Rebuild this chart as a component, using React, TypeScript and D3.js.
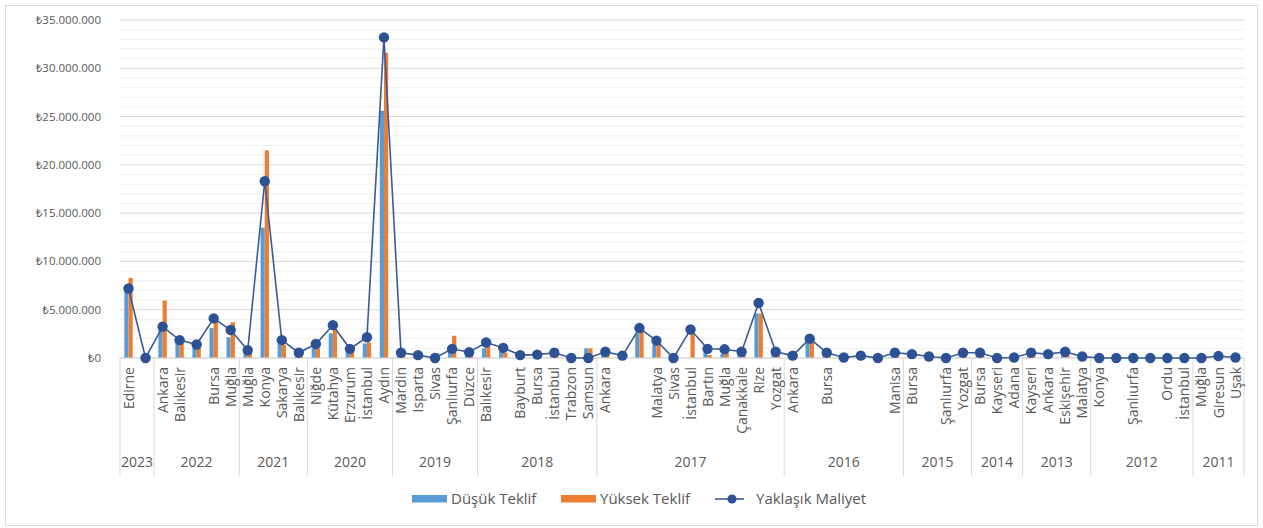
import React, { useEffect } from "react";
import * as d3 from "d3";

// Category labels (one per tender), grouped by year below
const cities = [
  "Edirne", "",
  "Ankara", "Balıkesir", "", "Bursa", "Muğla",
  "Muğla", "Konya", "Sakarya", "Balıkesir",
  "Niğde", "Kütahya", "Erzurum", "İstanbul", "Aydın",
  "Mardin", "Isparta", "Sivas", "Şanlıurfa", "Düzce",
  "Balıkesir", "", "Bayburt", "Bursa", "İstanbul", "Trabzon", "Samsun",
  "Ankara", "", "", "Malatya", "Sivas", "İstanbul", "Bartın", "Muğla", "Çanakkale", "Rize", "Yozgat",
  "Ankara", "", "Bursa", "", "", "", "Manisa",
  "Bursa", "", "Şanlıurfa", "Yozgat",
  "Bursa", "Kayseri", "Adana",
  "Kayseri", "Ankara", "Eskişehir", "Malatya",
  "Konya", "", "Şanlıurfa", "", "Ordu", "İstanbul",
  "Muğla", "Giresun", "Uşak",
];

const years = ["2023", "2022", "2021", "2020", "2019", "2018", "2017", "2016", "2015", "2014", "2013", "2012", "2011"];
const yearCounts = [2, 5, 4, 5, 5, 7, 11, 7, 4, 3, 4, 6, 3];

// Values in millions of ₺
const lowBid = [
  6.9, 0,
  3.0, 1.7, 1.1, 3.1, 2.15,
  0.5, 13.5, 1.5, 0.2,
  1.0, 2.55, 0.6, 1.5, 25.6,
  0.3, 0.1, 0.1, 0.8, 0.4,
  1.0, 0.65, 0.1, 0.15, 0.3, 0, 1.0,
  0.4, 0.1, 2.55, 1.35, 0, 0, 0.6, 0.4, 0.3, 4.6, 0.4,
  0.1, 1.65, 0.3, 0, 0.1, 0, 0.3,
  0.2, 0, 0, 0.3,
  0.3, 0, 0,
  0.3, 0.2, 0.4, 0,
  0, 0, 0, 0, 0, 0,
  0, 0, 0,
];

const highBid = [
  8.3, 0,
  5.95, 1.5, 1.1, 3.9, 3.7,
  0.6, 21.5, 1.35, 0.2,
  1.0, 2.9, 0.6, 1.6, 31.6,
  0.3, 0.1, 0.5, 2.3, 0.4,
  1.15, 0.55, 0.1, 0.15, 0.3, 0, 1.0,
  0.4, 0.1, 2.7, 1.35, 0, 2.6, 0.3, 0.55, 0.3, 4.6, 0.4,
  0.1, 1.65, 0.3, 0, 0.1, 0, 0.3,
  0.2, 0, 0, 0.3,
  0.3, 0, 0,
  0.3, 0.2, 0.4, 0,
  0, 0, 0, 0, 0, 0,
  0, 0, 0,
];

const approxCost = [
  7.2, 0,
  3.25, 1.85, 1.4, 4.1, 2.9,
  0.8, 18.3, 1.85, 0.55,
  1.45, 3.4, 0.95, 2.15, 33.2,
  0.55, 0.3, 0, 0.95, 0.6,
  1.6, 1.05, 0.3, 0.35, 0.55, 0, 0,
  0.65, 0.25, 3.1, 1.8, 0, 2.95, 0.95, 0.9, 0.65, 5.7, 0.65,
  0.25, 2.0, 0.55, 0.05, 0.25, 0, 0.55,
  0.4, 0.15, 0, 0.55,
  0.55, 0, 0.05,
  0.55, 0.4, 0.65, 0.15,
  0, 0, 0, 0, 0, 0,
  0, 0.2, 0.05,
];

const yTicks = [0, 5, 10, 15, 20, 25, 30, 35];

const W = 1263;
const H = 528;
const plot = { left: 120, right: 1244, top: 20, bottom: 358 };
const FONT = "'Open Sans', 'Noto Sans', sans-serif";
const TEXT = "#595959";
const BLUE = "#5B9BD5";
const ORANGE = "#ED7D31";
const LINE = "#2C5295";

const trLocale = d3.formatLocale({ decimal: ",", thousands: ".", grouping: [3], currency: ["₺", ""] });
const money = trLocale.format("$,.0f");

export default function App() {
  useEffect(() => {
    document.body.style.margin = "0";
  }, []);

  const idx = d3.range(cities.length);
  const x = d3.scaleBand<number>().domain(idx).range([plot.left, plot.right]).padding(0);
  const bw = x.bandwidth();
  const sub = d3.scaleBand<string>().domain(["low", "high"]).range([-4.2, 4.2]).padding(0);
  const y = d3.scaleLinear().domain([0, 35]).range([plot.bottom, plot.top]);

  const minorTicks = d3.range(1, 35).filter((v) => v % 5 !== 0);

  const line = d3
    .line<number>()
    .x((_, i) => (x(i) as number) + bw / 2)
    .y((d) => y(d));

  // year group boundaries
  const starts = [0, ...d3.cumsum(yearCounts)];
  const boundaryX = starts.map((s) => (s < cities.length ? (x(s) as number) : plot.right));

  return (
    <svg width={W} height={H} style={{ display: "block", background: "#fff" }} fontFamily={FONT}>
      <rect x={5.5} y={5.5} width={1252} height={520} fill="#fff" stroke="#d9d9d9" />

      {/* minor gridlines */}
      {minorTicks.map((t) => (
        <line key={"m" + t} x1={plot.left} x2={plot.right} y1={y(t)} y2={y(t)} stroke="#efefef" strokeWidth={1} />
      ))}
      {/* major gridlines */}
      {yTicks.map((t) => (
        <line key={"g" + t} x1={plot.left} x2={plot.right} y1={y(t)} y2={y(t)} stroke="#d9d9d9" strokeWidth={1} />
      ))}

      {/* y axis labels */}
      {yTicks.map((t) => (
        <text key={"yl" + t} x={101} y={y(t)} dy="0.35em" textAnchor="end" fontSize={11.5} fill={TEXT}>
          {money(t * 1e6)}
        </text>
      ))}

      {/* bars */}
      {idx.map((i) => {
        const cx = (x(i) as number) + bw / 2;
        return (
          <g key={"b" + i}>
            <rect
              x={cx + (sub("low") as number)}
              y={y(lowBid[i])}
              width={sub.bandwidth()}
              height={y(0) - y(lowBid[i])}
              fill={BLUE}
            />
            <rect
              x={cx + (sub("high") as number)}
              y={y(highBid[i])}
              width={sub.bandwidth()}
              height={y(0) - y(highBid[i])}
              fill={ORANGE}
            />
          </g>
        );
      })}

      {/* category axis */}
      <line x1={plot.left} x2={plot.right} y1={plot.bottom} y2={plot.bottom} stroke="#d9d9d9" />
      {boundaryX.map((bx, k) => (
        <line key={"sep" + k} x1={bx} x2={bx} y1={plot.bottom} y2={476} stroke="#d9d9d9" />
      ))}

      {/* approximate cost line */}
      <path d={line(approxCost) || ""} fill="none" stroke="#3d5a93" strokeWidth={1.6} />
      {approxCost.map((v, i) => (
        <circle key={"c" + i} cx={(x(i) as number) + bw / 2} cy={y(v)} r={5.2} fill={LINE} />
      ))}

      {/* city labels */}
      {cities.map((c, i) => {
        const cx = (x(i) as number) + bw / 2;
        return (
          <text
            key={"cl" + i}
            transform={`translate(${cx},${367}) rotate(-90)`}
            textAnchor="end"
            dy="0.36em"
            fontSize={14}
            fill={TEXT}
          >
            {c}
          </text>
        );
      })}

      {/* year labels */}
      {years.map((yr, k) => (
        <text
          key={"yr" + yr}
          x={(boundaryX[k] + boundaryX[k + 1]) / 2}
          y={467}
          textAnchor="middle"
          fontSize={14}
          fill={TEXT}
        >
          {yr}
        </text>
      ))}

      {/* legend */}
      <g fontSize={15} fill={TEXT}>
        <rect x={412} y={495} width={35} height={7.5} fill={BLUE} />
        <text x={451} y={499} dy="0.35em">Düşük Teklif</text>
        <rect x={561} y={495} width={35} height={7.5} fill={ORANGE} />
        <text x={600} y={499} dy="0.35em">Yüksek Teklif</text>
        <line x1={715} x2={744} y1={499} y2={499} stroke="#3d5a93" strokeWidth={1.6} />
        <circle cx={732} cy={499} r={4.5} fill={LINE} />
        <text x={756} y={499} dy="0.35em">Yaklaşık Maliyet</text>
      </g>
    </svg>
  );
}
